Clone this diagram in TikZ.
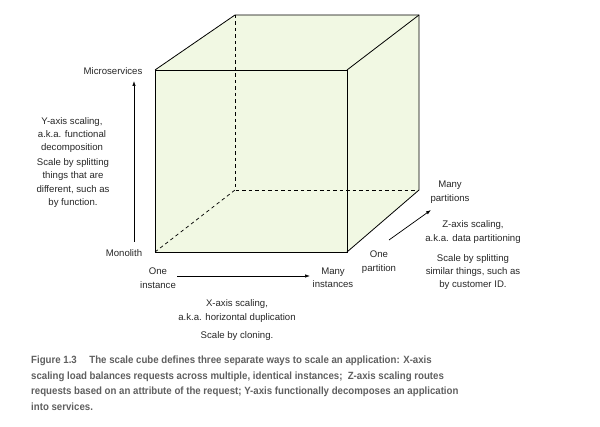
\documentclass[tikz,border=0pt]{standalone}
\usepackage{fontspec}
\setmainfont{Liberation Sans}
\newfontfamily\captionfont[FakeStretch=0.92]{Liberation Sans Bold}
\usepackage{xcolor}
\usetikzlibrary{arrows.meta,positioning}
\definecolor{cubefill}{RGB}{241,248,227}
\definecolor{captiongray}{RGB}{95,95,95}

\begin{document}
\begin{tikzpicture}[
  x=1pt, y=-1pt,
  every node/.style={font=\fontsize{9.6}{13.4}\selectfont, align=center, inner sep=0pt, text=black!85},
  edge/.style={line width=0.8pt},
  hidden/.style={line width=0.7pt, dash pattern=on 3.5pt off 3pt},
  axis/.style={-{Latex[length=5pt,width=3.5pt]}, line width=0.7pt},
  caption/.style={font=\captionfont\fontsize{10.5}{15.4}\selectfont, text=captiongray, align=left, anchor=north west}
]
\useasboundingbox (0,0) rectangle (600,427);
% cube corners
\coordinate (ftl) at (155,70);
\coordinate (ftr) at (347,70);
\coordinate (fbl) at (155,252);
\coordinate (fbr) at (347,252);
\coordinate (btl) at (235,15);
\coordinate (btr) at (419,15);
\coordinate (bbl) at (235,190);
\coordinate (bbr) at (419,190);
% cube
\fill[cubefill] (fbl) -- (ftl) -- (btl) -- (btr) -- (bbr) -- (fbr) -- cycle;
\draw[hidden] (btl) -- (bbl) -- (bbr);
\draw[hidden] (fbl) -- (bbl);
\draw[edge] (fbl) rectangle (ftr);
\draw[edge] (ftl) -- (btl) -- (btr) -- (bbr) -- (fbr);
\draw[edge] (ftr) -- (btr);
% y axis
\node (micro) at (113,71) {Microservices};
\node (mono) at (124,253) {Monolith};
\coordinate (ytail) at (134,242);
\coordinate (yhead) at (134,81);
\draw[axis] (ytail) -- (yhead);
\node (ytext) at (72,135) {Y-axis scaling,\\a.k.a. functional\\decomposition};
\node (ydesc) at (73,183) {Scale by splitting\\things that are\\different, such as\\by function.};
% x axis
\node (one) at (158,278) {One\\instance};
\node (many) at (333,278) {Many\\instances};
\coordinate (xtail) at (177,276);
\coordinate (xhead) at (310,276);
\draw[axis] (xtail) -- (xhead);
\node (xtext) at (237,311) {X-axis scaling,\\a.k.a. horizontal duplication};
\node (xdesc) at (237,336) {Scale by cloning.};
% z axis
\node (onep) at (379,262) {One\\partition};
\node (manyp) at (450,192) {Many\\partitions};
\coordinate (ztail) at (389,240);
\coordinate (zhead) at (431,210);
\draw[axis] (ztail) -- (zhead);
\node (ztext) at (473,232) {Z-axis scaling,\\a.k.a. data partitioning};
\node (zdesc) at (473,272) {Scale by splitting\\similar things, such as\\by customer ID.};
% caption
\node[caption] (cap) at (31,356) {Figure 1.3\hspace{1.2em}The scale cube defines three separate ways to scale an application: X-axis\\
scaling load balances requests across multiple, identical instances;\enspace Z-axis scaling routes\\
requests based on an attribute of the request; Y-axis functionally decomposes an application\\
into services.};
\end{tikzpicture}
\end{document}
